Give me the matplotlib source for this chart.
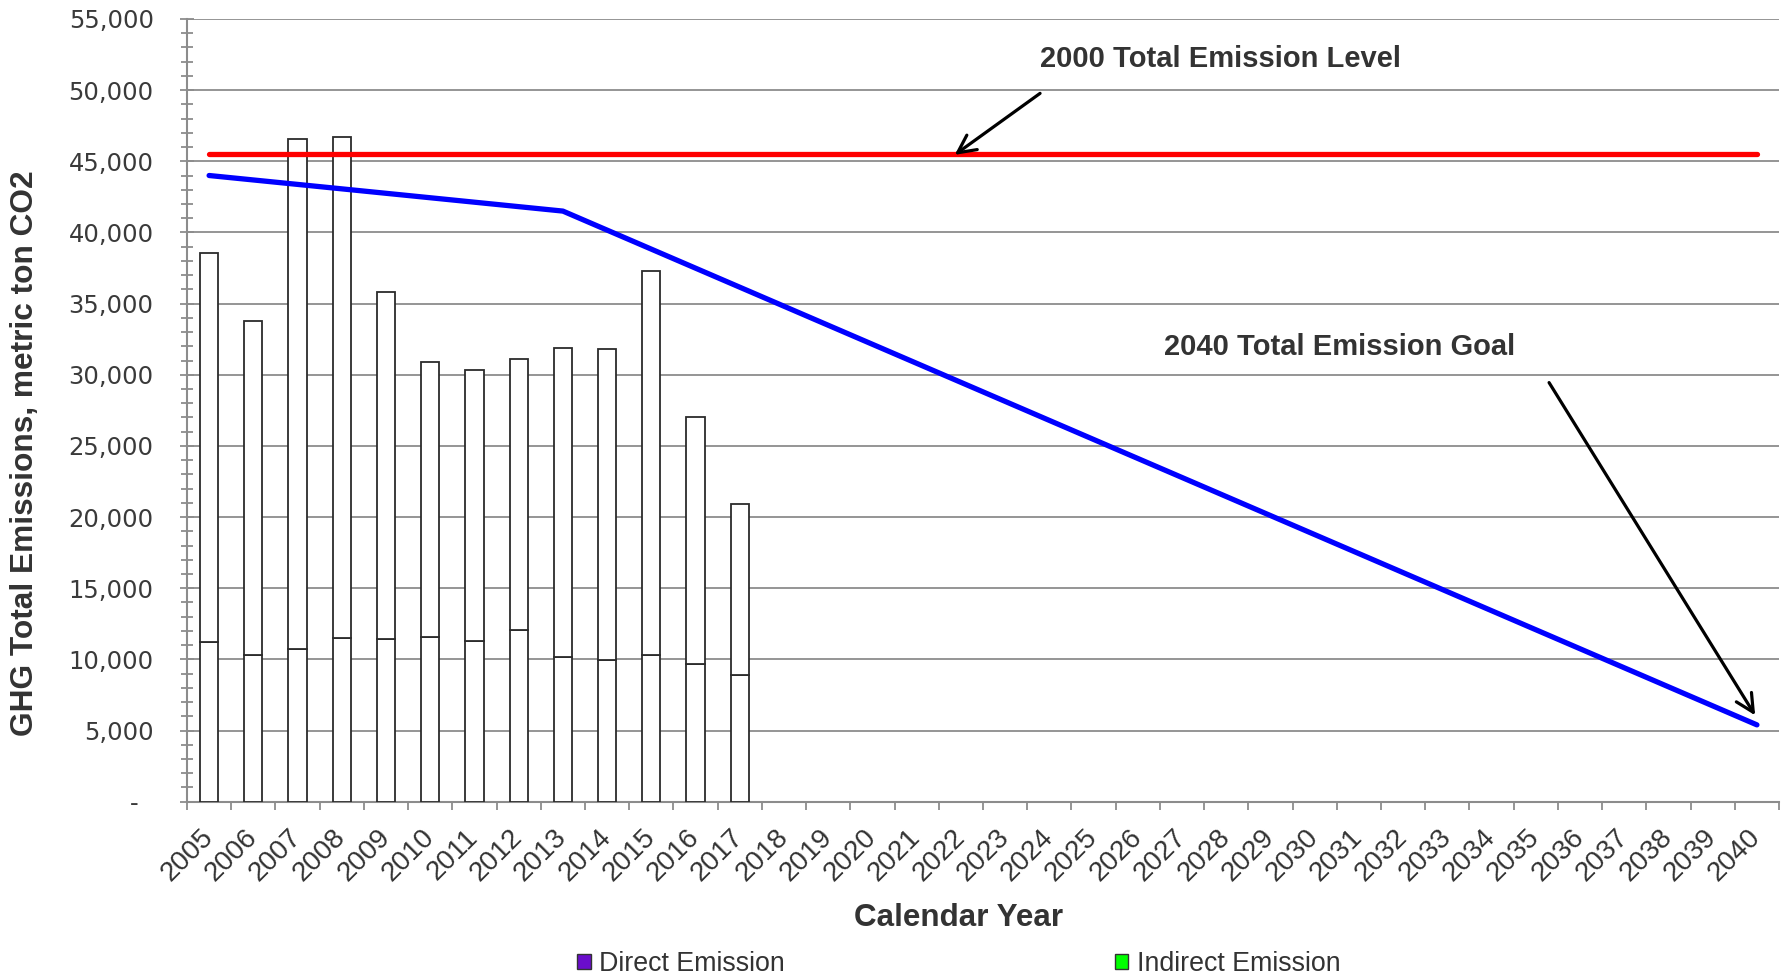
import matplotlib
matplotlib.use("Agg")
import matplotlib.pyplot as plt
from matplotlib.patches import Patch
from matplotlib.ticker import FuncFormatter, MultipleLocator, FixedLocator

# ---------------- data ----------------
years = ["2005", "2006", "2007", "2008", "2009", "2010", "2011", "2012",
         "2013", "2014", "2015", "2016", "2017", "2018", "2019", "2020",
         "2021", "2022", "2023", "2024", "2025", "2026", "2027", "2028",
         "2029", "2030", "2031", "2032", "2033", "2034", "2035", "2036",
         "2037", "2038", "2039", "2040"]

bar_years = ["2005", "2006", "2007", "2008", "2009", "2010", "2011",
             "2012", "2013", "2014", "2015", "2016", "2017"]
direct_emission = [11200, 10300, 10700, 11500, 11400, 11600, 11300,
                   12050, 10150, 9950, 10300, 9650, 8900]
indirect_emission = [27350, 23500, 35900, 35200, 24400, 19300, 19000,
                     19050, 21750, 21850, 27000, 17350, 12000]

goal_years = ["2005", "2013", "2040"]
goal_values = [44000, 41500, 5400]

level_years = ["2005", "2040"]
level_values = [45500, 45500]

# ---------------- styling ----------------
TXT = "#333333"
GRID = "#8c8c8c"
BOLD = ["Liberation Sans", "DejaVu Sans"]

pos = {y: i for i, y in enumerate(years)}

fig = plt.figure(figsize=(17.86, 9.77), dpi=100)
ax = fig.add_axes([0.1047, 0.1794, 0.8914, 0.8012])

bx = [pos[y] for y in bar_years]
ax.bar(bx, direct_emission, width=0.41, color="white", edgecolor="#2b2b2b",
       linewidth=1.3, zorder=3)
ax.bar(bx, indirect_emission, bottom=direct_emission, width=0.41,
       color="white", edgecolor="#2b2b2b", linewidth=1.3, zorder=3)

ax.plot([pos[y] for y in level_years], level_values, color="#ff0000",
        lw=3.8, solid_capstyle="round", zorder=4)
ax.plot([pos[y] for y in goal_years], goal_values, color="#0000ff",
        lw=3.8, solid_capstyle="round", solid_joinstyle="round", zorder=4)

ax.set_xlim(-0.5, len(years) - 0.5)
ax.set_ylim(0, 55000)

# y axis
ax.yaxis.set_major_locator(MultipleLocator(5000))
ax.yaxis.set_minor_locator(MultipleLocator(1000))
ax.yaxis.set_major_formatter(FuncFormatter(
    lambda v, p: "-  " if v == 0 else f"{int(v):,}"))
ax.tick_params(axis="y", which="major", direction="inout", length=10,
               width=1.3, color=GRID, pad=19, labelsize=17.5,
               labelcolor="#3a3a3a")
ax.tick_params(axis="y", which="minor", direction="inout", length=9,
               width=1.3, color=GRID)
ax.grid(axis="y", which="major", color=GRID, lw=1.3, zorder=0)
ax.set_axisbelow(True)

# x axis
ax.set_xticks(range(len(years)))
ax.set_xticklabels(years, rotation=45, ha="right", va="center",
                   rotation_mode="anchor", fontsize=20,
                   family=["Liberation Sans", "DejaVu Sans"], color=TXT)
ax.xaxis.set_minor_locator(FixedLocator([i - 0.5 for i in range(len(years) + 1)]))
ax.tick_params(axis="x", which="major", length=0, pad=23)
ax.tick_params(axis="x", which="minor", direction="out", length=5.5,
               width=1.3, color=GRID)

for s in ["top", "right"]:
    ax.spines[s].set_visible(False)
for s in ["left", "bottom"]:
    ax.spines[s].set_color(GRID)
    ax.spines[s].set_linewidth(1.5)

# annotations
ax.annotate("", xy=(16.86, 45451), xytext=(18.79, 49772),
            arrowprops=dict(arrowstyle="->", color="black", lw=2.3,
                            mutation_scale=32, shrinkA=0, shrinkB=0),
            zorder=6)
ax.annotate("", xy=(34.96, 6071), xytext=(30.30, 29450),
            arrowprops=dict(arrowstyle="->", color="black", lw=2.3,
                            mutation_scale=32, shrinkA=0, shrinkB=0),
            zorder=6)
ax.text(22.88, 51606, "2000 Total Emission Level", ha="center",
        va="baseline", fontsize=21, fontweight="bold", family=BOLD, color=TXT)
ax.text(25.56, 31390, "2040 Total Emission Goal", ha="center",
        va="baseline", fontsize=21, fontweight="bold", family=BOLD, color=TXT)

# axis titles
fig.text(959 / 1786, 1 - 926 / 977, "Calendar Year", ha="center",
         va="baseline", fontsize=22.6, fontweight="bold", family=BOLD, color=TXT)
fig.text(25 / 1786, 1 - 453 / 977, "GHG Total Emissions, metric ton CO2",
         rotation=90, ha="center", va="center", fontsize=22.8,
         fontweight="bold", family=BOLD, color=TXT)

# legend
handles = [Patch(facecolor="#6a0dcc", edgecolor="#333333", lw=1.0,
                 label="Direct Emission"),
           Patch(facecolor="#00ff00", edgecolor="#333333", lw=1.0,
                 label="Indirect Emission")]
fig.legend(handles=handles, loc="center", bbox_to_anchor=(959 / 1786, 1 - 964 / 977),
           ncol=2, frameon=False, handlelength=0.49, handleheight=0.49,
           handletextpad=0.33, columnspacing=12.3, borderpad=0,
           borderaxespad=0,
           prop=dict(family=["Liberation Sans", "DejaVu Sans"], size=19.3),
           labelcolor=TXT)

fig.savefig("out.png", dpi=100)
